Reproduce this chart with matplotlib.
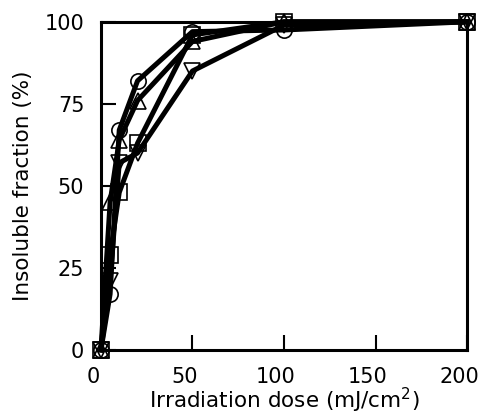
import matplotlib
matplotlib.use("Agg")
import matplotlib.pyplot as plt

plt.rcParams['font.family'] = ['DejaVu Sans']

dose = [0, 5, 10, 20, 50, 100, 200]
circle = [0, 17, 67, 82, 97, 97.5, 100]
square = [0, 29, 48, 63, 96, 100, 100]
tri_up = [0, 45, 64, 76, 94, 100, 100]
tri_down = [0, 21, 57, 60, 85, 99, 100]

xticks = [0, 50, 100, 150, 200]
yticks = [0, 25, 50, 75, 100]

series = [(circle, 'o'), (square, 's'), (tri_up, '^'), (tri_down, 'v')]

fig = plt.figure(figsize=(4.83, 4.19), dpi=100)
ax = fig.add_axes([0.209, 0.165, 0.758, 0.783])

for vals, m in series:
    ax.plot(dose, vals, color='black', lw=3.6, marker=m, markersize=11,
            markerfacecolor='none', markeredgecolor='black', markeredgewidth=1.2,
            clip_on=False, zorder=3)

ax.set_xlim(0, 200)
ax.set_ylim(0, 100)
ax.set_xticks(xticks)
ax.set_yticks(yticks)
ax.tick_params(direction='in', length=11, width=1.5, labelsize=15, pad=12)
ax.tick_params(axis='x', labelbottom=False)
for s in ax.spines.values():
    s.set_linewidth(2.2)

for v in xticks:
    ax.annotate(str(v), xy=(v, 0), xycoords=('data', 'axes fraction'),
                xytext=(-5.8, -12.5), textcoords='offset points',
                ha='center', va='top', fontsize=15, annotation_clip=False)

ax.set_xlabel('Irradiation dose (mJ/cm$^2$)', fontsize=15.5, labelpad=26)
ax.set_ylabel('Insoluble fraction (%)', fontsize=15.5, labelpad=8)

fig.savefig('out.png', dpi=100)
